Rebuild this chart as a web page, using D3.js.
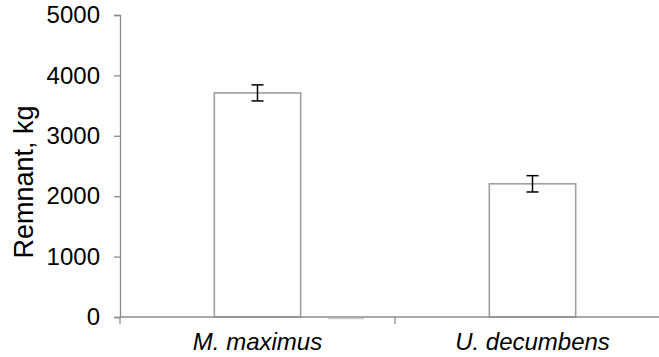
<!DOCTYPE html>
<html>
<head>
<meta charset="utf-8">
<script src="https://cdn.jsdelivr.net/npm/d3@7"></script>
<style>
  body { margin: 0; background: #fff; }
  text { font-family: "Liberation Sans", Arial, sans-serif; }
</style>
</head>
<body>
<svg id="chart"></svg>
<script>
// chart data
const categories = ["M. maximus", "U. decumbens"];
const remnant = [3710, 2205];
const errors = [133, 135];
const yTicks = [0, 1000, 2000, 3000, 4000, 5000];

const width = 659, height = 357;
const margin = {top: 15, right: -11, bottom: 40, left: 120};

let svg = d3.select("#chart")
    .attr("width", width)
    .attr("height", height)
    .attr("viewBox", [0, 0, width, height]);

let x = d3.scaleBand()
    .domain(categories)
    .range([margin.left, width - margin.right])
    .paddingInner(0)
    .paddingOuter(0);

let y = d3.scaleLinear()
    .domain([0, 5000])
    .range([height - margin.bottom, margin.top]);

const axisColor = "#8c8c8c";
const barW = x.bandwidth() * 0.314;

// y axis
let yAxis = svg.append("g")
    .attr("transform", `translate(${margin.left},0)`)
    .call(d3.axisLeft(y).tickValues(yTicks).tickSize(6).tickPadding(14).tickFormat(d3.format("d")));
yAxis.select(".domain").attr("stroke", axisColor).attr("stroke-width", 1.3);
yAxis.selectAll(".tick line").attr("stroke", axisColor).attr("stroke-width", 1.3);
yAxis.selectAll(".tick text")
    .attr("font-size", "24px")
    .attr("fill", "#000")
    .attr("font-family", "Liberation Sans, Arial, sans-serif");

// bars
svg.append("g")
    .selectAll("rect")
    .data(categories)
    .join("rect")
    .attr("x", d => x(d) + (x.bandwidth() - barW) / 2)
    .attr("y", (d, i) => y(remnant[i]))
    .attr("width", barW)
    .attr("height", (d, i) => y(0) - y(remnant[i]))
    .attr("fill", "#fff")
    .attr("stroke", "#a0a0a0")
    .attr("stroke-width", 1.6);

// faint grey segment under the axis between the groups
svg.append("line")
    .attr("x1", x(categories[1]) - 67)
    .attr("x2", x(categories[1]) - 31)
    .attr("y1", y(0) + 1.5)
    .attr("y2", y(0) + 1.5)
    .attr("stroke", "#cfcfcf")
    .attr("stroke-width", 1.5);

// x axis
let xAxis = svg.append("g")
    .attr("transform", `translate(0,${y(0)})`);
xAxis.append("line")
    .attr("x1", margin.left)
    .attr("x2", width - margin.right)
    .attr("stroke", axisColor)
    .attr("stroke-width", 1.3);
xAxis.selectAll("line.tick")
    .data([margin.left, ...categories.slice(1).map(c => x(c)), width - margin.right])
    .join("line")
    .attr("class", "tick")
    .attr("x1", d => d)
    .attr("x2", d => d)
    .attr("y1", 0)
    .attr("y2", 7)
    .attr("stroke", axisColor)
    .attr("stroke-width", 1.3);
xAxis.selectAll("text")
    .data(categories)
    .join("text")
    .attr("x", d => x(d) + x.bandwidth() / 2)
    .attr("y", 33)
    .attr("text-anchor", "middle")
    .attr("font-size", "24px")
    .attr("font-style", "italic")
    .text(d => d);

// error bars
let eb = svg.append("g")
    .attr("stroke", "#000")
    .attr("stroke-width", 1.5);
categories.forEach((c, i) => {
    let cx = x(c) + x.bandwidth() / 2;
    let hi = y(remnant[i] + errors[i]);
    let lo = y(remnant[i] - errors[i]);
    eb.append("line").attr("x1", cx).attr("x2", cx).attr("y1", hi).attr("y2", lo);
    eb.append("line").attr("x1", cx - 6).attr("x2", cx + 6).attr("y1", hi).attr("y2", hi);
    eb.append("line").attr("x1", cx - 6).attr("x2", cx + 6).attr("y1", lo).attr("y2", lo);
});

// y axis title
svg.append("text")
    .attr("transform", `translate(33,182) rotate(-90)`)
    .attr("text-anchor", "middle")
    .attr("font-size", "27px")
    .text("Remnant, kg");
</script>
</body>
</html>
